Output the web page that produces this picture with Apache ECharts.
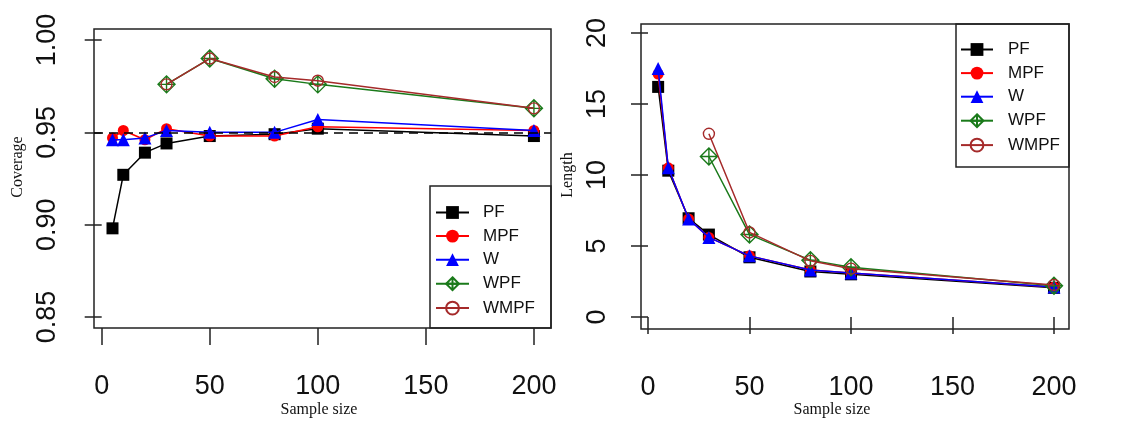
<!DOCTYPE html>
<html>
<head>
<meta charset="utf-8">
<script src="https://cdn.jsdelivr.net/npm/echarts@6/dist/echarts.min.js"></script>
<style>
html,body{margin:0;padding:0;background:#fff;}
#chart{width:1121px;height:423px;}
</style>
</head>
<body>
<div id="chart"></div>
<script>
// ---- data ----
const sampleSizes = [5, 10, 20, 30, 50, 80, 100, 200];
const weightedSizes = [30, 50, 80, 100, 200];
const seriesNames = ['PF', 'MPF', 'W', 'WPF', 'WMPF'];

const covPF   = [0.898, 0.927, 0.939, 0.944, 0.948, 0.949, 0.952, 0.948];
const covMPF  = [0.947, 0.951, 0.946, 0.952, 0.948, 0.948, 0.953, 0.951];
const covW    = [0.946, 0.946, 0.947, 0.951, 0.950, 0.950, 0.957, 0.951];
const covWPF  = [0.976, 0.990, 0.979, 0.976, 0.963];
const covWMPF = [0.976, 0.990, 0.980, 0.978, 0.963];

const lenPF   = [16.2, 10.3, 6.95, 5.8, 4.2, 3.2, 3.0, 2.05];
const lenMPF  = [17.1, 10.5, 6.9, 5.6, 4.3, 3.3, 3.1, 2.1];
const lenW    = [17.5, 10.5, 6.9, 5.6, 4.3, 3.3, 3.1, 2.1];
const lenWPF  = [11.3, 5.8, 4.0, 3.5, 2.2];
const lenWMPF = [12.9, 5.95, 3.95, 3.4, 2.25];

const covTicks = [0.85, 0.90, 0.95, 1.00];
const lenTicks = [0, 5, 10, 15, 20];
const xTicks = [0, 50, 100, 150, 200];
const nominalCoverage = 0.95;

// ---- styling ----
const COLORS = {PF:'#000000', MPF:'#ff0000', W:'#0000ff', WPF:'#1a7a1a', WMPF:'#a52a2a'};
const diamondPlus = 'path://M0,-10L10,0L0,10L-10,0Z M0,-10L0,10 M-10,0L10,0';
const SANS = '"Liberation Sans", Arial, sans-serif';
const SERIF = '"Liberation Serif", "Times New Roman", serif';

function pairs(xs, ys){ return xs.map((x,i)=>[x, ys[i]]); }

function makeSeries(name, xs, ys, idx){
  const c = COLORS[name];
  const s = {
    name, type:'line', xAxisIndex: idx, yAxisIndex: idx,
    data: pairs(xs, ys), animation:false, silent:true,
    lineStyle:{color:c, width:1.5}, z: 2 + seriesNames.indexOf(name)
  };
  if(name==='PF'){ s.symbol='rect'; s.symbolSize=12; s.itemStyle={color:c}; }
  if(name==='MPF'){ s.symbol='circle'; s.symbolSize=11; s.itemStyle={color:c}; }
  if(name==='W'){ s.symbol='triangle'; s.symbolSize=13; s.itemStyle={color:c}; }
  if(name==='WPF'){ s.symbol=diamondPlus; s.symbolSize=17; s.itemStyle={color:'none', borderColor:c, borderWidth:1.4}; }
  if(name==='WMPF'){ s.symbol='circle'; s.symbolSize=11; s.itemStyle={color:'none', borderColor:c, borderWidth:1.4}; }
  return s;
}

function xAxisCfg(idx, min, max){
  return {
    type:'value', gridIndex: idx, min, max,
    axisLine:{show:false},
    splitLine:{show:false},
    axisTick:{show:true, length:17, inside:false, customValues:xTicks, lineStyle:{color:'#222', width:1.5}},
    axisLabel:{show:true, customValues:xTicks, margin:45, fontFamily:SANS, fontSize:27, lineHeight:27, color:'#111'}
  };
}
function yAxisCfg(idx, min, max, ticks, fmt, margin){
  return {
    type:'value', gridIndex: idx, min, max,
    axisLine:{show:false},
    splitLine:{show:false},
    axisTick:{show:true, length:17, inside:false, customValues:ticks, lineStyle:{color:'#222', width:1.5}},
    axisLabel:{show:true, customValues:ticks, rotate:90, margin, fontFamily:SANS, fontSize:27, lineHeight:27, color:'#111', formatter:fmt}
  };
}

const series = [];
series.push(makeSeries('PF', sampleSizes, covPF, 0));
series[0].markLine = {
  silent:true, symbol:['none','none'], label:{show:false},
  lineStyle:{color:'#000', type:[9,6], width:1.5},
  data:[{yAxis: nominalCoverage}], animation:false
};
series.push(makeSeries('MPF', sampleSizes, covMPF, 0));
series.push(makeSeries('W', sampleSizes, covW, 0));
series.push(makeSeries('WPF', weightedSizes, covWPF, 0));
series.push(makeSeries('WMPF', weightedSizes, covWMPF, 0));
series.push(makeSeries('PF', sampleSizes, lenPF, 1));
series.push(makeSeries('MPF', sampleSizes, lenMPF, 1));
series.push(makeSeries('W', sampleSizes, lenW, 1));
series.push(makeSeries('WPF', weightedSizes, lenWPF, 1));
series.push(makeSeries('WMPF', weightedSizes, lenWMPF, 1));

function legendCfg(left, top, gapText, itemWidth){
  return {
    orient:'vertical', left, top, padding:0,
    itemWidth, itemHeight:16, itemGap:6.6,
    data: seriesNames, selectedMode:false,
    textStyle:{fontFamily:SANS, fontSize:17, color:'#111', lineHeight:14, padding:[0,0,0,gapText]}
  };
}

const option = {
  backgroundColor:'#fff',
  animation:false,
  grid:[
    {left:94, top:29, width:457, height:299, show:true, borderColor:'#222', borderWidth:1.5, backgroundColor:'transparent'},
    {left:641, top:24, width:428, height:305, show:true, borderColor:'#222', borderWidth:1.5, backgroundColor:'transparent'}
  ],
  xAxis:[xAxisCfg(0, -3.56, 207.9), xAxisCfg(1, -3.45, 207.4)],
  yAxis:[
    yAxisCfg(0, 0.844, 1.006, covTicks, v=>v.toFixed(2), 33),
    yAxisCfg(1, -0.85, 20.63, lenTicks, v=>String(v), 30)
  ],
  legend:[legendCfg(435, 204, 9, 33), legendCfg(960, 41, 10, 32)],
  graphic:[
    {type:'rect', shape:{x:430, y:186, width:121, height:142}, style:{fill:'none', stroke:'#222', lineWidth:1.5}, z:100},
    {type:'rect', shape:{x:956, y:24, width:113, height:143}, style:{fill:'none', stroke:'#222', lineWidth:1.5}, z:100},
    {type:'text', x:319, y:410, style:{text:'Sample size', font:'16px '+SERIF, fill:'#111', align:'center', verticalAlign:'middle'}},
    {type:'text', x:832, y:410, style:{text:'Sample size', font:'16px '+SERIF, fill:'#111', align:'center', verticalAlign:'middle'}},
    {type:'text', x:18, y:167, rotation:Math.PI/2, style:{text:'Coverage', font:'16px '+SERIF, fill:'#111', align:'center', verticalAlign:'middle'}},
    {type:'text', x:568, y:175, rotation:Math.PI/2, style:{text:'Length', font:'16px '+SERIF, fill:'#111', align:'center', verticalAlign:'middle'}}
  ],
  series
};

const chart = echarts.init(document.getElementById('chart'), null, {renderer:'canvas'});
chart.setOption(option);
</script>
</body>
</html>
